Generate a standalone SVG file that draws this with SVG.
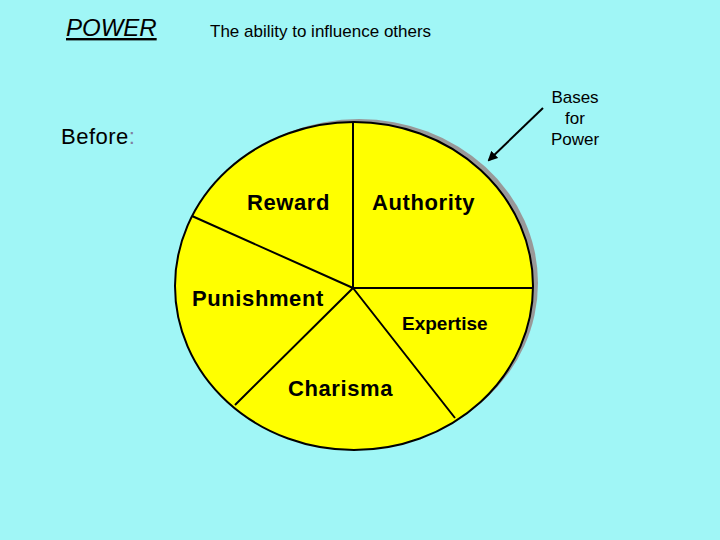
<svg xmlns="http://www.w3.org/2000/svg" width="720" height="540" viewBox="0 0 720 540">
<style>
text{font-family:"Liberation Sans",Arial,sans-serif;fill:#000}
.b{font-weight:bold;font-size:22px;letter-spacing:0.6px}
.l{stroke:#000;stroke-width:2;fill:none}
</style>
<defs><marker id="ah" markerWidth="10" markerHeight="10" refX="8" refY="5" orient="auto" markerUnits="userSpaceOnUse"><path d="M0,0 L10,5 L0,10 z" fill="#000"/></marker></defs>
<rect width="720" height="540" fill="#a0f6f6"/>
<g id="title"><text x="66" y="36" font-size="24" font-style="italic" text-decoration="underline">POWER</text>
<text x="210" y="37" font-size="17">The ability to influence others</text></g>
<g id="before"><text x="61" y="144" font-size="22" letter-spacing="0.5">Before<tspan fill="#8080a0">:</tspan></text></g>
<g id="bases"><text x="575" y="103" font-size="17" text-anchor="middle">Bases</text><text x="575" y="124" font-size="17" text-anchor="middle">for</text><text x="575" y="145" font-size="17" text-anchor="middle">Power</text></g>
<g id="pie">
<ellipse cx="359" cy="283" rx="179" ry="164" fill="#999"/>
<ellipse cx="354" cy="286" rx="179" ry="164" fill="#ffff00" stroke="#000" stroke-width="2"/>
</g>
<g id="connectors">
<path class="l" d="M353,122 V288 H533 M353,288 L192,216 M353,288 L235,405 M353,288 L455,418"/>
<line class="l" x1="543" y1="108" x2="489" y2="160" marker-end="url(#ah)"/>
</g>
<g id="n-reward"><text class="b" x="247" y="210">Reward</text></g>
<g id="n-authority"><text class="b" x="372" y="210">Authority</text></g>
<g id="n-punishment"><text class="b" x="192" y="306">Punishment</text></g>
<g id="n-expertise"><text x="402" y="330" font-weight="bold" font-size="19">Expertise</text></g>
<g id="n-charisma"><text class="b" x="288" y="396">Charisma</text></g>
</svg>
